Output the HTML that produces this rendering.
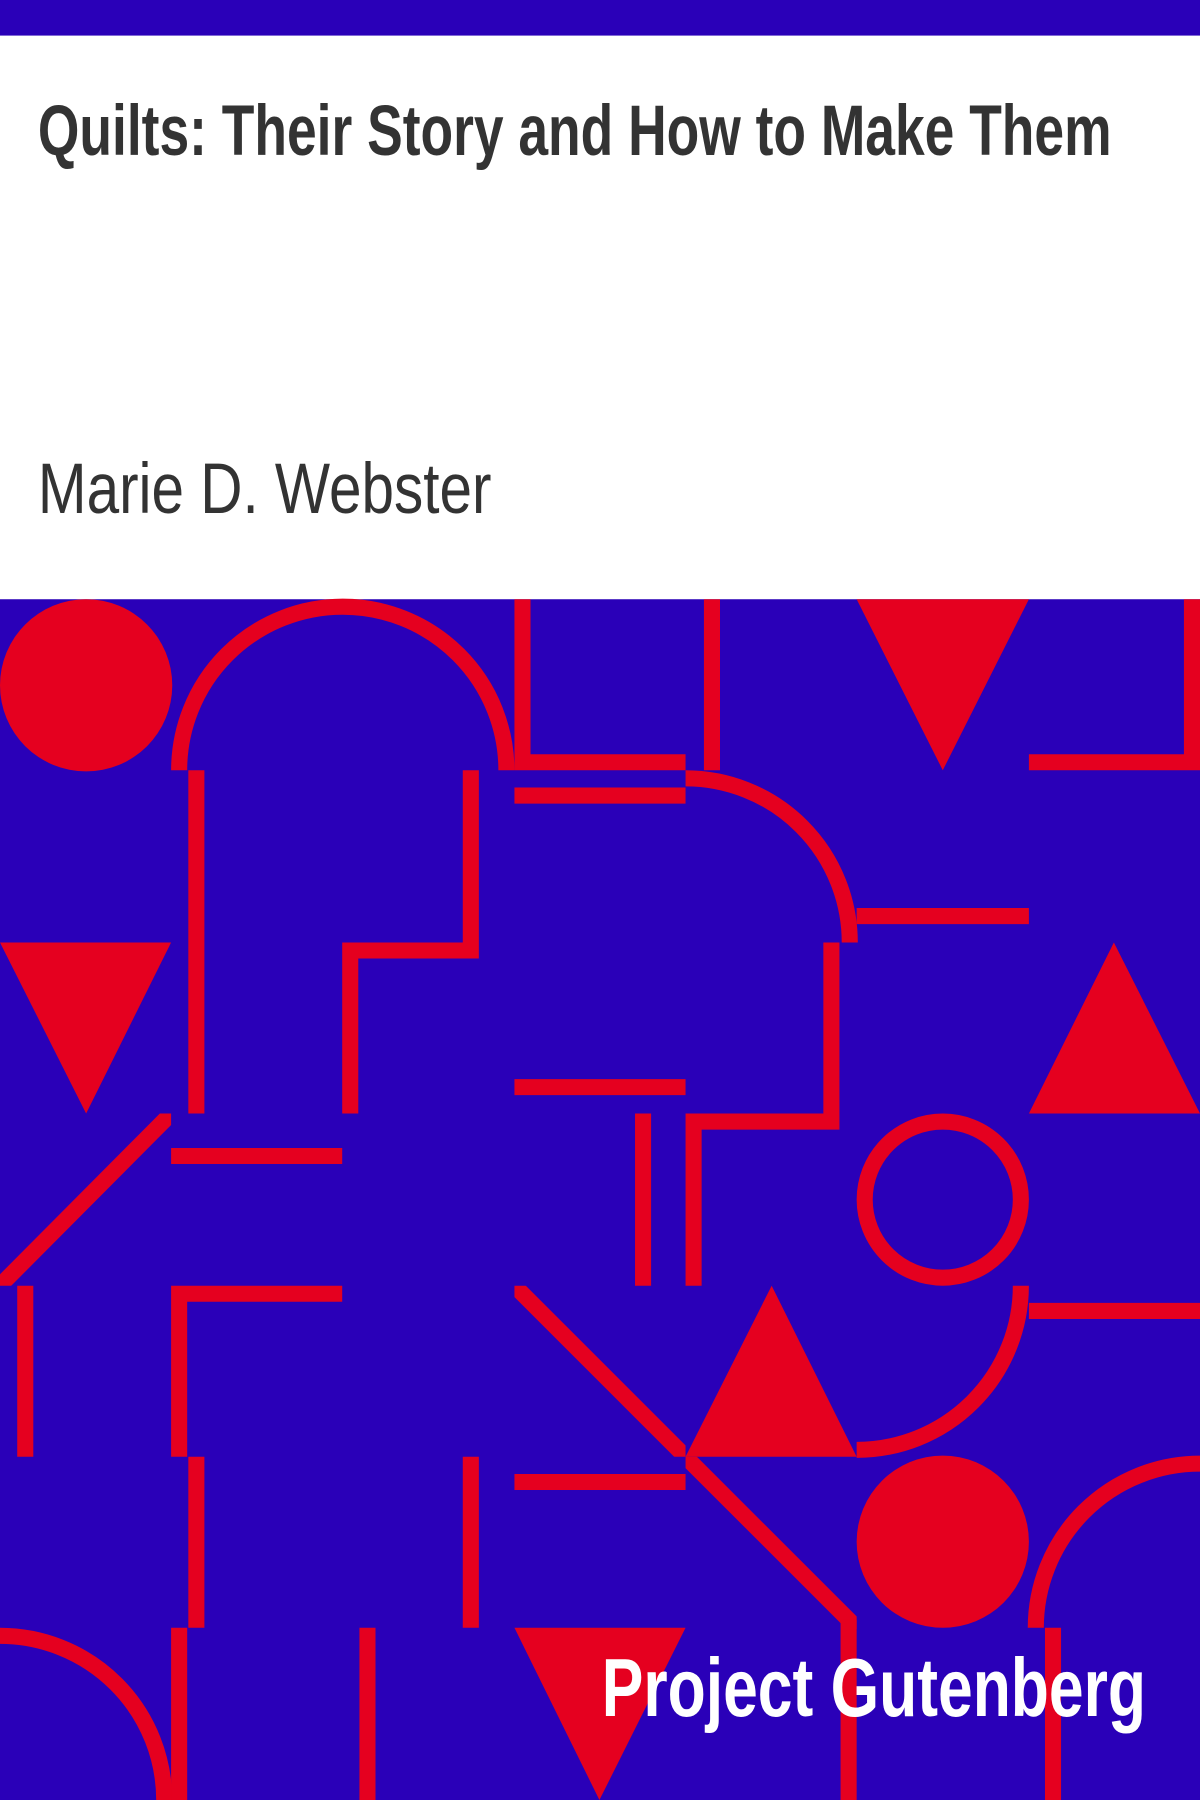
<!DOCTYPE html>
<html><head><meta charset="utf-8"><style>html,body{margin:0;padding:0;background:#fff}svg{display:block}</style></head>
<body>
<svg width="1200" height="1800" viewBox="0 0 1045 1568" preserveAspectRatio="none" xmlns="http://www.w3.org/2000/svg">
<defs>
<clipPath id="c1"><rect x="0" y="970" width="149" height="150"/></clipPath>
<clipPath id="c2"><rect x="448" y="1120" width="149" height="149"/></clipPath>
<clipPath id="c3"><rect x="597" y="1269" width="149" height="150"/></clipPath>
</defs>
<rect x="0" y="0" width="1045" height="31" fill="#2a00b8"/>
<text x="33" y="135" font-family="'Liberation Sans Narrow','Liberation Sans',sans-serif" font-weight="bold" font-size="62" fill="#333" textLength="935" lengthAdjust="spacingAndGlyphs">Quilts: Their Story and How to Make Them</text>
<text x="33" y="447" font-family="'Liberation Sans Narrow','Liberation Sans',sans-serif" font-size="62" fill="#333" textLength="395" lengthAdjust="spacingAndGlyphs">Marie D. Webster</text>
<g>
<rect x="0" y="522" width="1045" height="1046" fill="#2a00b8"/>
<g fill="#e5001f">
<circle cx="75" cy="597" r="75"/>
<polygon points="746,522 896,522 821,671"/>
<polygon points="0,821 149,821 75,970"/>
<polygon points="896,970 1045,970 970,821"/>
<polygon points="597,1269 746,1269 672,1120"/>
<circle cx="821" cy="1343" r="75"/>
<polygon points="448,1418 597,1418 522,1568"/>
</g>
<g stroke="#e5001f" stroke-width="14" fill="none">
<path d="M156,671 A142,142 0 0 1 441,671"/>
<path d="M455,522 V664 H597"/>
<path d="M620,522 V671"/>
<path d="M1038,522 V664 H896"/>
<path d="M171,671 V970"/>
<path d="M410,671 V828 H305 V970"/>
<path d="M448,693 H597"/>
<path d="M597,678 A143,143 0 0 1 740,821"/>
<path d="M746,798 H896"/>
<path d="M724,821 V977 H604 V1120"/>
<path d="M448,947 H597"/>
<path d="M159,960 L-10,1130" clip-path="url(#c1)"/>
<path d="M149,1007 H298"/>
<path d="M560,970 V1120"/>
<circle cx="821" cy="1045" r="68"/>
<path d="M22,1120 V1269"/>
<path d="M298,1127 H156 V1269"/>
<path d="M438,1110 L607,1279" clip-path="url(#c2)"/>
<path d="M889,1120 A143,143 0 0 1 746,1263"/>
<path d="M896,1142 H1045"/>
<path d="M171,1269 V1418"/>
<path d="M410,1269 V1418"/>
<path d="M448,1291 H597"/>
<path d="M587,1259 L749,1421" clip-path="url(#c3)"/>
<path d="M739,1411 V1568"/>
<path d="M902,1418 A143,143 0 0 1 1045,1275"/>
<path d="M0,1425 A143,143 0 0 1 143,1568"/>
<path d="M156,1418 V1568"/>
<path d="M320,1418 V1568"/>
<path d="M917,1418 V1568"/>
</g>
</g>
<text x="998" y="1495" text-anchor="end" font-family="'Liberation Sans Narrow','Liberation Sans',sans-serif" font-weight="bold" font-size="72" fill="#fff" textLength="474" lengthAdjust="spacingAndGlyphs">Project Gutenberg</text>
</svg>
</body></html>
